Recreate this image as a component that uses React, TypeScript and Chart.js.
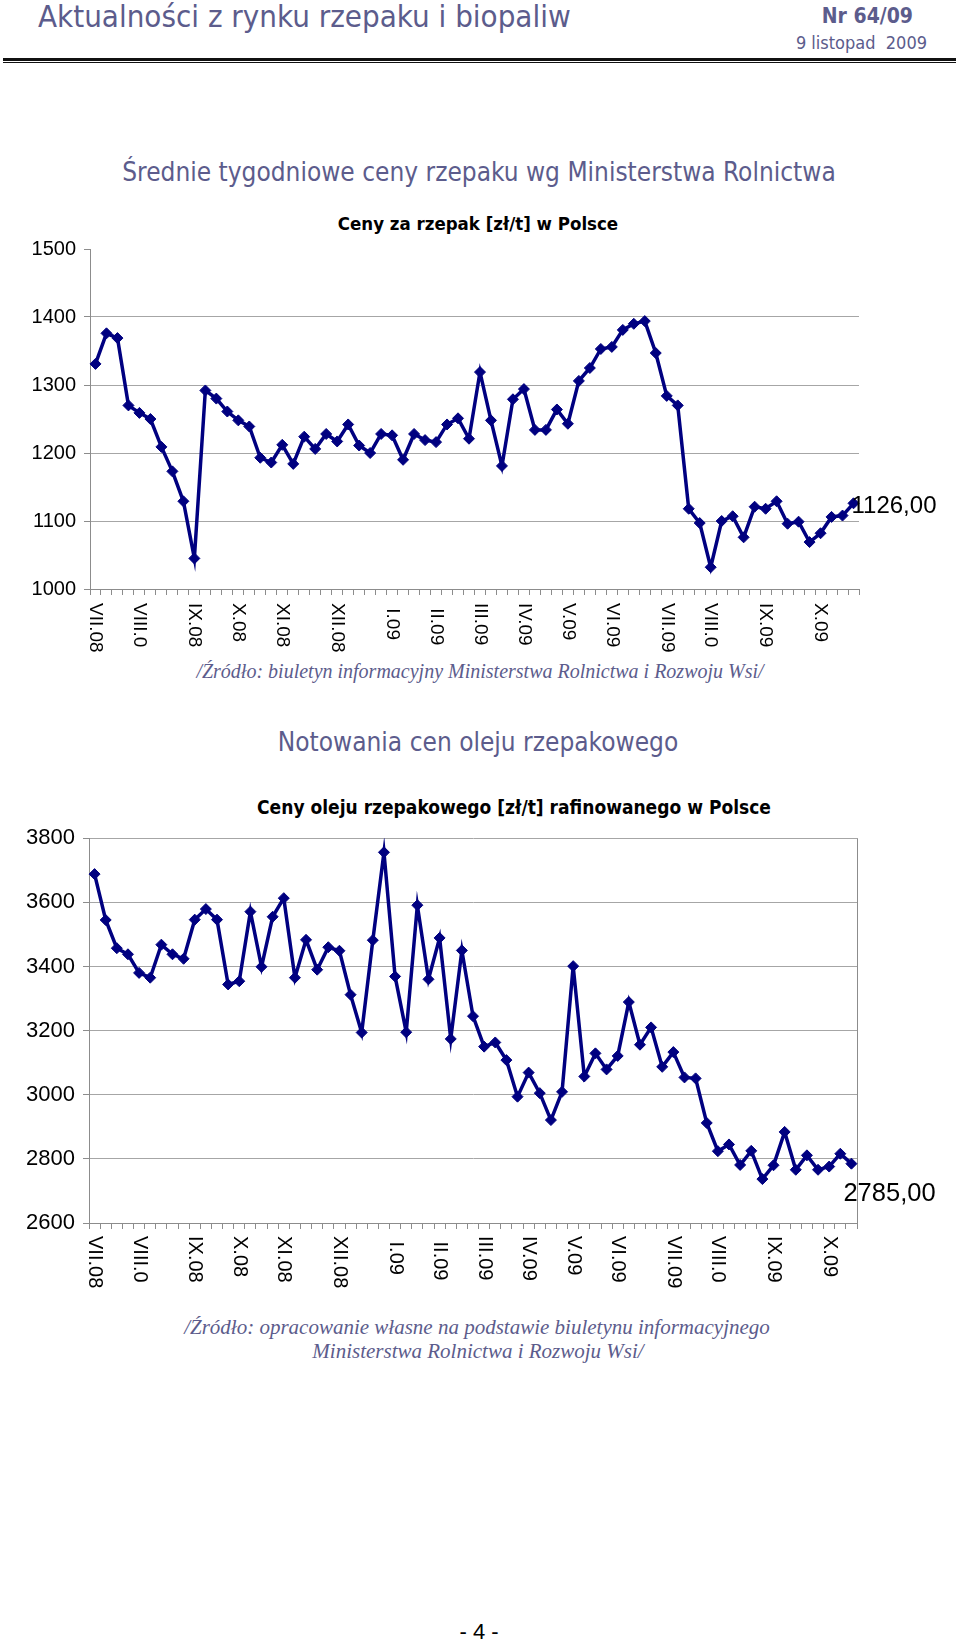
import React, { useEffect, useRef } from 'react';
import { Chart, registerables } from 'chart.js';

Chart.register(...registerables);

// ---------- DATA ----------
const rapeseedPrices: number[] = [
  1331, 1376, 1369, 1270, 1259, 1250, 1209, 1173, 1129, 1045,
  1292, 1280, 1261, 1248, 1239, 1193, 1186, 1212, 1184, 1224,
  1206, 1228, 1217, 1242, 1211, 1200, 1228, 1226, 1190, 1228,
  1219, 1216, 1242, 1251, 1221, 1319, 1248, 1181, 1279, 1294,
  1234, 1234, 1264, 1243, 1306, 1325, 1353, 1356, 1381, 1390,
  1394, 1347, 1284, 1270, 1118, 1097, 1032, 1100, 1107, 1076,
  1121, 1118, 1129, 1096, 1099, 1069, 1082, 1106, 1108, 1126,
];

const oilPrices: number[] = [
  3688, 3545, 3457, 3438, 3380, 3365, 3468, 3438, 3424, 3546,
  3579, 3546, 3344, 3354, 3571, 3399, 3555, 3613, 3365, 3483,
  3390, 3460, 3449, 3312, 3194, 3482, 3756, 3369, 3195, 3591,
  3360, 3489, 3174, 3450, 3245, 3150, 3163, 3108, 2994, 3069,
  3005, 2921, 3009, 3401, 3057, 3129, 3079, 3121, 3289, 3156,
  3210, 3087, 3133, 3054, 3051, 2912, 2824, 2845, 2781, 2825,
  2737, 2780, 2884, 2766, 2811, 2766, 2776, 2816, 2785,
];

const monthLabels: string[] = [
  'VII.08', 'VIII.0', 'IX.08', 'X.08', 'XI.08', 'XII.08', ' I.09', ' II.09',
  'III.09', 'IV.09', 'V.09', 'VI.09', 'VII.09', 'VIII.0', 'IX.09', 'X.09',
];
const monthWeekIndex: number[] = [0, 4, 9, 13, 17, 22, 27, 31, 35, 39, 43, 47, 52, 56, 61, 66];

const rapeseedAxis = { min: 1000, max: 1500, step: 100 };
const oilAxis = { min: 2600, max: 3800, step: 200 };

function buildCategories(n: number): string[] {
  return Array.from({ length: n }, (_, i) => {
    const k = monthWeekIndex.indexOf(i);
    return k >= 0 ? monthLabels[k] : '';
  });
}

// ---------- STYLE ----------
const NAVY = '#000080';
const SLATE = '#5c5c8c';
const GRID = '#a6a6a6';
const AXIS = '#8c8c8c';
const SANS = "'Liberation Sans', Arial, sans-serif";
const TITLE_FONT = "'DejaVu Sans Condensed', 'DejaVu Sans', sans-serif";
const SERIF = "'Liberation Serif', 'Times New Roman', serif";

type ChartProps = {
  values: number[];
  axis: { min: number; max: number; step: number };
  top: number;
  height: number;
  left: number;
  right: number;
  plotTop: number;
  plotBottom: number;
  tickFontSize: number;
  labelFontSize: number;
  labelGap: number;
  hideTopGrid: boolean;
  box: boolean;
  valueDx: number;
  valueDy: number;
  valueFontSize: number;
};

function LineChart(p: ChartProps) {
  const ref = useRef<HTMLCanvasElement | null>(null);

  useEffect(() => {
    if (!ref.current) return;
    const monthLabelPlugin = {
      id: 'monthLabels',
      afterDraw(chart: any) {
        const ctx = chart.ctx;
        const xs = chart.scales.x;
        const labels: string[] = xs.getLabels();
        ctx.save();
        ctx.font = `${p.labelFontSize}px ${SANS}`;
        ctx.fillStyle = '#000';
        ctx.textAlign = 'left';
        ctx.textBaseline = 'middle';
        labels.forEach((l, i) => {
          if (!l) return;
          const px = xs.getPixelForValue(i);
          ctx.save();
          ctx.translate(px, chart.chartArea.bottom + p.labelGap);
          ctx.rotate(Math.PI / 2);
          ctx.fillText(l, 0, 0);
          ctx.restore();
        });
        ctx.restore();
      },
    };
    const valueLabelPlugin = {
      id: 'valueLabel',
      afterDatasetsDraw(chart: any) {
        const meta = chart.getDatasetMeta(0);
        const ds = chart.data.datasets[0].data as number[];
        const last = meta.data[meta.data.length - 1];
        if (!last) return;
        const ctx = chart.ctx;
        ctx.save();
        ctx.font = `${p.valueFontSize}px ${SANS}`;
        ctx.fillStyle = '#000';
        ctx.textAlign = 'left';
        ctx.textBaseline = 'middle';
        const v = ds[ds.length - 1];
        ctx.fillText(v.toFixed(2).replace('.', ','), last.x + p.valueDx, last.y + p.valueDy);
        ctx.restore();
      },
    };
    const boxPlugin = {
      id: 'rightBorder',
      beforeDatasetsDraw(chart: any) {
        if (!p.box) return;
        const { ctx, chartArea } = chart;
        ctx.save();
        ctx.strokeStyle = AXIS;
        ctx.lineWidth = 1;
        ctx.beginPath();
        ctx.moveTo(chartArea.right + 0.5, chartArea.top);
        ctx.lineTo(chartArea.right + 0.5, chartArea.bottom);
        ctx.stroke();
        ctx.restore();
      },
    };

    const chart = new Chart(ref.current, {
      type: 'line',
      data: {
        labels: buildCategories(p.values.length),
        datasets: [
          {
            data: p.values,
            borderColor: NAVY,
            backgroundColor: NAVY,
            borderWidth: 3.5,
            pointStyle: 'rectRot',
            pointRadius: 5.5,
            pointBorderWidth: 1,
            pointBackgroundColor: NAVY,
            pointBorderColor: NAVY,
            tension: 0,
            fill: false,
          },
        ],
      },
      options: {
        responsive: false,
        animation: false,
        events: [],
        layout: {
          padding: { top: p.plotTop - p.top, right: 960 - p.right, left: 0, bottom: 0 },
        },
        plugins: {
          legend: { display: false },
          tooltip: { enabled: false },
          title: { display: false },
        },
        scales: {
          x: {
            type: 'category',
            offset: true,
            grid: {
              display: true,
              offset: true,
              drawOnChartArea: false,
              drawTicks: true,
              tickLength: 6,
              color: AXIS,
              tickColor: AXIS,
            },
            border: { display: true, color: AXIS, width: 1 },
            ticks: { display: false, autoSkip: false },
            afterFit(scale: any) {
              scale.height = p.top + p.height - p.plotBottom;
            },
          },
          y: {
            min: p.axis.min,
            max: p.axis.max,
            grid: {
              color: (c: any) =>
                p.hideTopGrid && c.tick && c.tick.value === p.axis.max ? 'rgba(0,0,0,0)' : GRID,
              tickColor: AXIS,
              tickLength: 6,
              drawTicks: true,
            },
            border: { display: true, color: AXIS, width: 1 },
            ticks: {
              stepSize: p.axis.step,
              color: '#000',
              padding: 8,
              font: { family: SANS, size: p.tickFontSize },
              callback: (v: any) => String(v),
            },
            afterFit(scale: any) {
              scale.width = p.left;
            },
          },
        },
      },
      plugins: [boxPlugin, valueLabelPlugin, monthLabelPlugin],
    } as any);
    return () => chart.destroy();
  }, []);

  return (
    <div style={{ position: 'absolute', left: 0, top: p.top, width: 960, height: p.height }}>
      <canvas ref={ref} width={960} height={p.height} style={{ width: 960, height: p.height, display: 'block' }} />
    </div>
  );
}

type TProps = {
  x: number;
  y: number;
  align?: 'left' | 'center' | 'right';
  style?: React.CSSProperties;
  children: React.ReactNode;
};

function T({ x, y, align = 'left', style, children }: TProps) {
  const tx = align === 'left' ? '0' : align === 'center' ? '-50%' : '-100%';
  return (
    <div
      style={{
        position: 'absolute',
        left: x,
        top: y,
        transform: `translate(${tx}, -50%)`,
        whiteSpace: 'pre',
        lineHeight: 1,
        ...style,
      }}
    >
      {children}
    </div>
  );
}

export default function App() {
  return (
    <div
      style={{
        position: 'absolute',
        left: 0,
        top: 0,
        width: 960,
        height: 1643,
        overflow: 'hidden',
        background: '#fff',
      }}
    >
      {/* header */}
      <T x={38} y={16} style={{ fontFamily: TITLE_FONT, fontSize: 31, color: SLATE }}>
        Aktualności z rynku rzepaku i biopaliw
      </T>
      <T x={913} y={16} align="right" style={{ fontFamily: TITLE_FONT, fontSize: 21, fontWeight: 'bold', color: SLATE }}>
        Nr 64/09
      </T>
      <T x={927} y={43} align="right" style={{ fontFamily: TITLE_FONT, fontSize: 18, color: SLATE }}>
        9 listopad  2009
      </T>
      <div style={{ position: 'absolute', left: 3, top: 58, width: 953, height: 3, background: '#111' }} />
      <div style={{ position: 'absolute', left: 3, top: 62, width: 953, height: 1, background: '#111' }} />

      {/* chart 1 */}
      <T x={479} y={172} align="center" style={{ fontFamily: TITLE_FONT, fontSize: 26, color: SLATE }}>
        Średnie tygodniowe ceny rzepaku wg Ministerstwa Rolnictwa
      </T>
      <T x={478} y={224} align="center" style={{ fontFamily: TITLE_FONT, fontSize: 18.5, fontWeight: 'bold', color: '#000' }}>
        Ceny za rzepak [zł/t] w Polsce
      </T>
      <LineChart
        values={rapeseedPrices}
        axis={rapeseedAxis}
        top={229}
        height={431}
        left={90}
        right={859}
        plotTop={249}
        plotBottom={589}
        tickFontSize={20}
        labelFontSize={19}
        labelGap={14}
        hideTopGrid={true}
        box={false}
        valueDx={-2}
        valueDy={3}
        valueFontSize={24}
      />
      <T x={480} y={671} align="center" style={{ fontFamily: SERIF, fontStyle: 'italic', fontSize: 20, color: SLATE }}>
        /Źródło: biuletyn informacyjny Ministerstwa Rolnictwa i Rozwoju Wsi/
      </T>

      {/* chart 2 */}
      <T x={478} y={742} align="center" style={{ fontFamily: TITLE_FONT, fontSize: 26, color: SLATE }}>
        Notowania cen oleju rzepakowego
      </T>
      <T x={514} y={807} align="center" style={{ fontFamily: TITLE_FONT, fontSize: 19, fontWeight: 'bold', color: '#000' }}>
        Ceny oleju rzepakowego [zł/t] rafinowanego w Polsce
      </T>
      <LineChart
        values={oilPrices}
        axis={oilAxis}
        top={817}
        height={478}
        left={89}
        right={857}
        plotTop={837}
        plotBottom={1223}
        tickFontSize={22}
        labelFontSize={20}
        labelGap={13}
        hideTopGrid={false}
        box={true}
        valueDx={-8}
        valueDy={30}
        valueFontSize={25.5}
      />
      <T x={477} y={1327} align="center" style={{ fontFamily: SERIF, fontStyle: 'italic', fontSize: 21, color: SLATE }}>
        /Źródło: opracowanie własne na podstawie biuletynu informacyjnego
      </T>
      <T x={478} y={1351} align="center" style={{ fontFamily: SERIF, fontStyle: 'italic', fontSize: 21, color: SLATE }}>
        Ministerstwa Rolnictwa i Rozwoju Wsi/
      </T>

      <T x={479} y={1632} align="center" style={{ fontFamily: SANS, fontSize: 22, color: '#000' }}>
        - 4 -
      </T>
    </div>
  );
}
